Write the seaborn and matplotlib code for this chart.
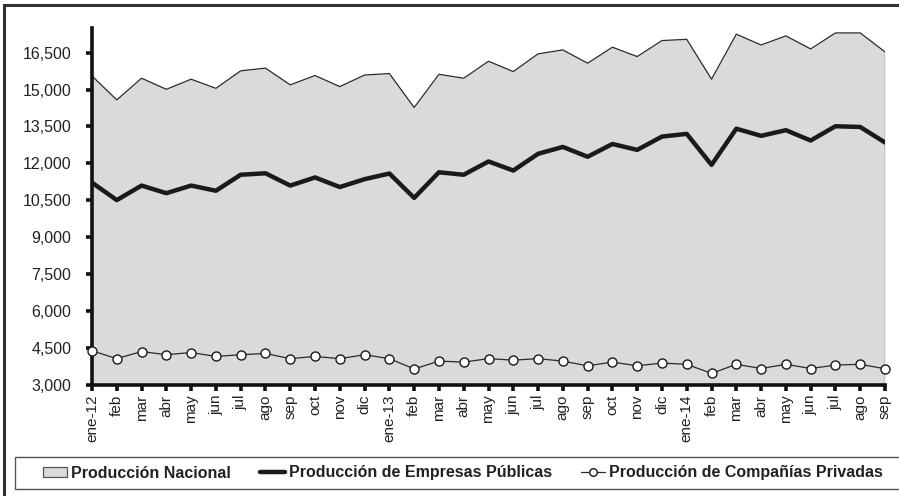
import matplotlib
matplotlib.use("Agg")
import matplotlib.pyplot as plt
import seaborn as sns
import numpy as np
import pandas as pd
from matplotlib.patches import Rectangle, Patch
from matplotlib.lines import Line2D

months = ["ene-12", "feb", "mar", "abr", "may", "jun", "jul", "ago", "sep", "oct", "nov", "dic",
          "ene-13", "feb", "mar", "abr", "may", "jun", "jul", "ago", "sep", "oct", "nov", "dic",
          "ene-14", "feb", "mar", "abr", "may", "jun", "jul", "ago", "sep"]

nacional = [15550, 14580, 15460, 15010, 15420, 15050, 15760, 15870, 15190, 15570, 15120, 15590,
            15650, 14270, 15620, 15460, 16150, 15730, 16450, 16610, 16070, 16720, 16340, 16990,
            17040, 15420, 17250, 16810, 17180, 16650, 17300, 17300, 16530]

publicas = [11220, 10510, 11100, 10790, 11100, 10890, 11540, 11600, 11100, 11430, 11040, 11360,
            11590, 10600, 11640, 11540, 12080, 11710, 12390, 12670, 12270, 12790, 12550, 13090,
            13200, 11940, 13410, 13120, 13350, 12930, 13510, 13480, 12850]

privadas = [4390, 4070, 4360, 4230, 4320, 4160, 4230, 4280, 4070, 4160, 4070, 4230,
            4070, 3650, 3970, 3930, 4070, 4010, 4070, 3970, 3780, 3930, 3780, 3890,
            3840, 3470, 3840, 3670, 3840, 3670, 3810, 3840, 3660]

yticks = [3000, 4500, 6000, 7500, 9000, 10500, 12000, 13500, 15000, 16500]

labels = ["Producción Nacional", "Producción de Empresas Públicas", "Producción de Compañías Privadas"]

sns.set_theme(style="white")
plt.rcParams["font.family"] = ["Liberation Sans", "DejaVu Sans"]

df = pd.DataFrame({"x": np.arange(len(months)), "nac": nacional, "pub": publicas, "priv": privadas})

W, H = 899, 496
fig = plt.figure(figsize=(W / 100, H / 100), dpi=100)
ax = fig.add_axes([92 / W, 1 - 385 / H, (885 - 92) / W, (385 - 28) / H])
ax.set_facecolor("white")

area_col = "#d9dadc"
ax.fill_between(df["x"], 3000, df["nac"], color=area_col, lw=0, zorder=1)
sns.lineplot(data=df, x="x", y="nac", ax=ax, color="#2a2a2a", lw=0.9, zorder=2)
ax.plot([df["x"].iloc[-1]] * 2, [3000, nacional[-1]], color="#2a2a2a", lw=0.9, zorder=2)
sns.lineplot(data=df, x="x", y="pub", ax=ax, color="#1a1a1a", lw=3.2, zorder=3)
sns.lineplot(data=df, x="x", y="priv", ax=ax, color="#2a2a2a", lw=0.9, marker="o",
             markersize=6.5, markerfacecolor="white", markeredgecolor="#1a1a1a",
             markeredgewidth=1.0, zorder=6, clip_on=False)

ax.set_xlim(0, len(months) - 1)
ax.set_ylim(3000, 17500)
ax.set_yticks(yticks)
ax.set_yticklabels([f"{v:,}" for v in yticks])
ax.set_xticks(np.arange(len(months)))
ax.set_xticklabels(months, rotation=90)
ax.set_xlabel("")
ax.set_ylabel("")

for s in ["top", "right"]:
    ax.spines[s].set_visible(False)
for s in ["left", "bottom"]:
    ax.spines[s].set_color("#111111")
    ax.spines[s].set_linewidth(2.6)
    ax.spines[s].set_zorder(5)

ax.tick_params(axis="y", which="major", left=True, length=4, width=2.6, color="#111111",
               pad=11, labelsize=11.5, labelcolor="#222222")
ax.tick_params(axis="x", which="major", bottom=True, length=4, width=2.6, color="#111111",
               pad=3, labelsize=11, labelcolor="#222222")

# outer frame (left and top edges visible)
fig.add_artist(Rectangle((4 / W, -0.2), 1.3, 1.2 - 5 / H, transform=fig.transFigure,
                         fill=False, edgecolor="#333333", lw=2.2))
# legend box
fig.add_artist(Rectangle((15 / W, 1 - 489 / H), 1.2, (489 - 457) / H, transform=fig.transFigure,
                         fill=False, edgecolor="#555555", lw=1.0))

handles = [
    Patch(facecolor=area_col, edgecolor="#555555", lw=0.9),
    Line2D([], [], color="#1a1a1a", lw=3.2),
    Line2D([], [], color="#2a2a2a", lw=0.9, marker="o", markersize=5.5,
           markerfacecolor="white", markeredgecolor="#1a1a1a"),
]
leg = fig.legend(handles, labels, loc="center", bbox_to_anchor=(463 / W, 1 - 473 / H),
                 ncol=3, frameon=False, prop={"weight": "bold", "size": 11.5},
                 handlelength=1.55, handletextpad=0.25, columnspacing=1.8, handleheight=0.55)
for t in leg.get_texts():
    t.set_color("#222222")

fig.savefig("out.png", dpi=100)
